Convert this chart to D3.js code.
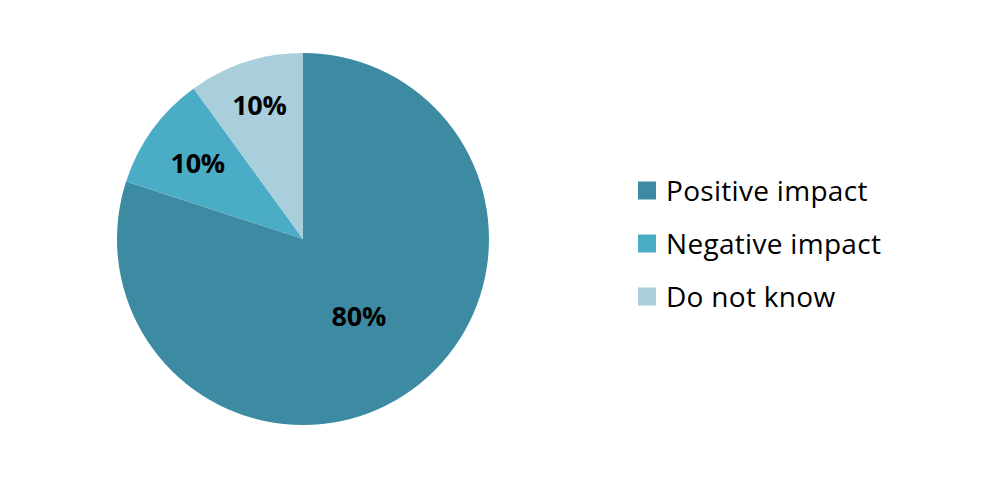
<!DOCTYPE html>
<html><head><meta charset="utf-8">
<script src="https://cdn.jsdelivr.net/npm/d3@7"></script>
<style>body{margin:0;background:#fff}</style>
</head><body>
<svg id="c" width="981" height="484"></svg>
<script>
const categories = ["Positive impact", "Negative impact", "Do not know"];
const values = [80, 10, 10];
const labels = ["80%", "10%", "10%"];
const colors = ["#3D8BA2", "#4BACC6", "#A9CEDC"];
const labelRadiusFactor = [0.51, 0.70, 0.76];

const svg = d3.select("#c");
const cx = 303, cy = 239, r = 186;
const font = "'Open Sans', Carlito, Calibri, sans-serif";
const pie = d3.pie().sort(null).value(d => d)(values);
const arc = d3.arc().innerRadius(0).outerRadius(r);
const g = svg.append("g").attr("transform", `translate(${cx},${cy})`);
g.selectAll("path").data(pie).join("path").attr("d", arc).attr("fill", (d,i) => colors[i]);
g.selectAll("text").data(pie).join("text")
  .attr("transform", (d,i) => {
    const rr = r*labelRadiusFactor[i];
    const m = (d.startAngle + d.endAngle)/2;
    return `translate(${rr*Math.sin(m)},${-rr*Math.cos(m)})`;
  })
  .attr("text-anchor", "middle").attr("dy", "0.38em")
  .attr("font-family", font).attr("font-weight", "bold").attr("font-size", 27)
  .attr("letter-spacing", -0.3)
  .attr("fill", "#000").text((d,i) => labels[i]);

const y = d3.scaleBand().domain(categories).range([164, 323]);
const lg = svg.append("g");
const item = lg.selectAll("g").data(categories).join("g")
  .attr("transform", d => `translate(638,${y(d) + y.bandwidth()/2})`);
item.append("rect").attr("x", 0).attr("y", -9).attr("width", 18).attr("height", 18)
  .attr("fill", (d,i) => colors[i]);
item.append("text").attr("x", 28).attr("dy", "0.36em")
  .attr("font-family", font).attr("font-size", 28).attr("letter-spacing", 0.3)
  .attr("fill", "#000").text(d => d);
</script>
</body></html>
